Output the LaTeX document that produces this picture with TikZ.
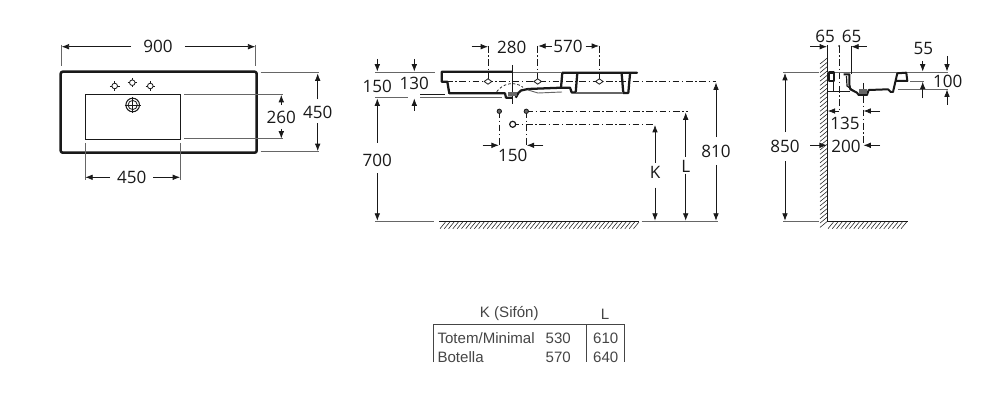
\documentclass[tikz,border=0pt]{standalone}
\usepackage{fontspec}
\setmainfont{Open Sans}
\newfontfamily\tablefont{Liberation Sans}
\usetikzlibrary{arrows.meta}
\definecolor{inkline}{gray}{0.1}
\definecolor{extline}{gray}{0.4}
\definecolor{tabletext}{gray}{0.27}
\tikzset{
	dimtext/.style={inner sep=0pt,font=\fontsize{12.8}{14}\selectfont,text=inkline},
	dimarrow/.style={draw=inkline,line width=0.55pt,-{Latex[length=5.5pt,width=4.2pt]}},
	extension/.style={draw=extline,line width=0.7pt},
	centreline/.style={draw=inkline,line width=0.45pt,dash pattern=on 5pt off 2pt on 1pt off 2pt},
	outline/.style={draw=inkline,line width=1.7pt,line join=round},
	thinline/.style={draw=inkline,line width=0.55pt},
	hatching/.style={draw=inkline,line width=0.4pt},
	hole/.style={draw=inkline,line width=0.6pt,fill=white},
	tabletextstyle/.style={inner sep=0pt,font=\tablefont\fontsize{11.3}{13}\selectfont,text=tabletext},
	tablerule/.style={draw=tabletext,line width=0.6pt}
}
\begin{document}
\begin{tikzpicture}
	[x=0.75pt,y=-0.75pt]
	\useasboundingbox (0,0) rectangle (1000,417);

	\draw[outline,line width=1.9pt,rounded corners=1.5pt] (60.7,71.7) rectangle (256.7,152.7);
	\draw[thinline] (85.3,94.3) rectangle (180,139.3);
	\foreach \hx/\hy in {114.7/86,132.3/82.7,150.3/86} {
		\draw[thinline] (\hx-4.8,\hy) -- (\hx+4.8,\hy) (\hx,\hy-4.8) -- (\hx,\hy+4.8);
		\draw[hole] (\hx,\hy) circle [radius=2.8];
	}
	\draw[thinline] (124.5,105) -- (141,105) (132.7,97) -- (132.7,113.5);
	\draw[hole,line width=0.8pt,fill=none] (132.7,105) circle [radius=6.8];
	\draw[hole,fill=none] (132.7,105) circle [radius=4.6];

	\draw[extension] (61.7,44.7) -- (61.7,66) (255.3,44.7) -- (255.3,66);
	\draw[extension] (260.7,72.7) -- (318.7,72.7) (260.7,151.3) -- (318.7,151.3);
	\draw[extension] (184,94.3) -- (282.7,94.3) (184,138.7) -- (282.7,138.7);
	\draw[extension] (85.3,143) -- (85.3,180) (180,143) -- (180,180);

	\node[dimtext] (w900) at (158,46.7) {900};
	\node[dimtext] (d450) at (317.7,112.7) {450};
	\node[dimtext] (d260) at (281.3,117) {260};
	\node[dimtext] (w450) at (131.7,177.3) {450};
	\coordinate (w900l) at (61.7,46.7);
	\coordinate (w900r) at (255.3,46.7);
	\coordinate (d450t) at (317.7,73.5);
	\coordinate (d450b) at (317.7,151);
	\coordinate (d260t) at (281.3,95);
	\coordinate (d260b) at (281.3,138.5);
	\coordinate (w450l) at (85.3,177.3);
	\coordinate (w450r) at (180,177.3);
	\draw[dimarrow,shorten <=9pt] (w900) -- (w900l);
	\draw[dimarrow,shorten <=9pt] (w900) -- (w900r);
	\draw[dimarrow,shorten <=5pt] (d450) -- (d450t);
	\draw[dimarrow,shorten <=3pt] (d450) -- (d450b);
	\draw[dimarrow,shorten <=4pt] (d260) -- (d260t);
	\draw[dimarrow,shorten <=4pt] (d260) -- (d260b);
	\draw[dimarrow,shorten <=5pt] (w450) -- (w450l);
	\draw[dimarrow,shorten <=5pt] (w450) -- (w450r);

	\draw[outline] (512.7,71.7) -- (441.7,71.7) -- (441.7,81.7) -- (447.3,81.7) -- (449.3,93.3)
		-- (505,93.3) -- (506,97.7) -- (512.7,97.7);
	\draw[outline] (515.7,97.7) -- (518.3,93) -- (521,90.5) -- (528,89) -- (561,87.7);
	\draw[outline,line cap=round] (561,87.7) -- (562.3,72.7) -- (637,72.7);
	\draw[outline] (561,87.7) -- (570,87.7) -- (571.7,92.5) -- (575.7,92.5) -- (577.3,73);
	\draw[outline] (621.7,74) -- (623.3,93) -- (628.3,93) -- (630,74);
	\draw[extension,line width=1pt] (575.7,93) -- (623.3,93);
	\draw[extension] (512.7,72.2) -- (562,72.2);
	\draw[thinline] (512.7,65) -- (512.7,104);
	\draw[extension] (528,90) -- (538,93) -- (562,92);
	\draw[thinline,dash pattern=on 2pt off 1.5pt] (496.7,91.7) .. controls (503,83) and (515,81) .. (523,87.3);
	\fill[extline] (507.5,92.5) rectangle (516.5,96.5);

	\draw[extension] (375,72.3) -- (435,72.3);
	\draw[extension] (375,97.7) -- (408,97.7) (420,97.7) -- (501.7,97.7);
	\draw[thinline] (420,94.3) -- (445,94.3);
	\draw[extension] (375,221.7) -- (434,221.7) (641.7,221.7) -- (718.3,221.7);
	\draw[thinline] (439.3,221.7) -- (638.7,221.7);
	\foreach \hx in {440,444.3,...,634} {
		\draw[hatching] (\hx,228.7) -- (\hx+5.5,222);
	}

	\draw[centreline] (446,81.5) -- (716,81.5);
	\draw[centreline] (526.3,111.3) -- (688,111.3);
	\draw[centreline] (512.7,124.3) -- (655,124.3);
	\draw[centreline] (488.3,46) -- (488.3,81.5);
	\draw[centreline] (537.7,46) -- (537.7,81.5);
	\draw[centreline] (599.3,46) -- (599.3,81.5);
	\draw[centreline] (499.3,111.3) -- (499.3,147);
	\draw[centreline] (526.3,111.3) -- (526.3,147);
	\foreach \hx in {488,537.7,599.3} {
		\draw[hole] (\hx-3.8,81.5) -- (\hx,78.8) -- (\hx+3.8,81.5) -- (\hx,84.2) -- cycle;
	}
	\foreach \hx in {499.3,526.3} {
		\draw[hole,fill=extline] (\hx,111.3) circle [radius=2.2];
	}
	\draw[hole,line width=0.9pt] (512.7,124.3) circle [radius=3];

	\node[dimtext] (p280) at (511.7,47) {280};
	\node[dimtext] (p570) at (568,46) {570};
	\node[dimtext] (h150) at (377.3,86) {150};
	\node[dimtext] (h130) at (414.3,83.3) {130};
	\node[dimtext] (h700) at (377.3,160) {700};
	\node[dimtext] (p150) at (512.7,155) {150};
	\node[dimtext] (hK) at (655,172) {K};
	\node[dimtext] (hL) at (685.7,166) {L};
	\node[dimtext] (h810) at (716,151.7) {810};
	\coordinate (p280a) at (471.7,46.7);
	\coordinate (p280b) at (488,46.7);
	\coordinate (p570l) at (538.3,46);
	\coordinate (p570r) at (599,46);
	\coordinate (h150a) at (377.3,59);
	\coordinate (h150b) at (377.3,71.5);
	\coordinate (h130a) at (414.3,59);
	\coordinate (h130b) at (414.3,71.5);
	\coordinate (h130c) at (414.3,111);
	\coordinate (h130d) at (414.3,98.5);
	\coordinate (h700t) at (377.3,98.5);
	\coordinate (h700b) at (377.3,220.7);
	\coordinate (p150a) at (482.7,145.3);
	\coordinate (p150b) at (498.8,145.3);
	\coordinate (p150c) at (543.3,145.3);
	\coordinate (p150d) at (526.8,145.3);
	\coordinate (hKt) at (655,125);
	\coordinate (hKb) at (655,220.7);
	\coordinate (hLt) at (685.7,112.5);
	\coordinate (hLb) at (685.7,220.7);
	\coordinate (h810t) at (716,82.5);
	\coordinate (h810b) at (716,220.7);
	\draw[dimarrow] (p280a) -- (p280b);
	\draw[dimarrow,shorten <=1pt] (p570) -- (p570l);
	\draw[dimarrow,shorten <=2pt] (p570) -- (p570r);
	\draw[dimarrow] (h150a) -- (h150b);
	\draw[dimarrow] (h130a) -- (h130b);
	\draw[dimarrow] (h130c) -- (h130d);
	\draw[dimarrow,shorten <=8pt] (h700) -- (h700t);
	\draw[dimarrow,shorten <=5pt] (h700) -- (h700b);
	\draw[dimarrow] (p150a) -- (p150b);
	\draw[dimarrow] (p150c) -- (p150d);
	\draw[dimarrow,shorten <=2pt] (hK) -- (hKt);
	\draw[dimarrow,shorten <=7pt] (hK) -- (hKb);
	\draw[dimarrow,shorten <=2pt] (hL) -- (hLt);
	\draw[dimarrow,shorten <=1pt] (hL) -- (hLb);
	\draw[dimarrow,shorten <=6pt] (h810) -- (h810t);
	\draw[dimarrow,shorten <=5pt] (h810) -- (h810b);

	\draw[thinline] (827.3,45) -- (827.3,221.7) -- (908.3,221.7);
	\foreach \hy in {64,68.3,...,228} {
		\draw[hatching] (820,\hy) -- (827.3,\hy-6);
	}
	\foreach \hx in {828,832.3,...,905} {
		\draw[hatching] (\hx,228.7) -- (\hx+5.5,222);
	}
	\draw[extension] (783.3,72) -- (819.3,72) (827.3,72) -- (948.3,72);
	\draw[extension] (783,221.7) -- (819,221.7);
	\draw[thinline] (851,46) -- (851,74);
	\draw[centreline] (839,46) -- (839,111.7);
	\draw[centreline] (863,83) -- (863,145);
	\draw[thinline] (827.3,91.7) -- (850,91.7) (833.7,81) -- (833.7,91.7);
	\draw[extension] (910,81.3) -- (924,81.3) (898.3,89) -- (948.3,89);
	\fill[inkline] (839,46) circle [radius=1];

	\draw[outline] (828.7,81) -- (828.7,72.5) -- (833.7,72.5) -- (833.7,81) -- cycle;
	\draw[outline,line width=1.5pt] (843.7,74.3) -- (849.3,74.3) -- (849.3,84.3) -- (850.3,89.3) -- (857,92.7)
		-- (858.7,95) -- (867,95) -- (868.7,90) -- (888,89.3) -- (890.7,92) -- (893,92) -- (897.3,73.3)
		-- (906.3,72.7) -- (907.3,81) -- (896.3,81);
	\draw[thinline,line width=0.9pt] (846.5,76) -- (847,86) -- (857,93);
	\fill[extline] (858.7,89.5) rectangle (867,94);

	\node[dimtext] (s65l) at (825,36.7) {65};
	\node[dimtext] (s65r) at (851.7,36.7) {65};
	\node[dimtext] (s850) at (785,146.7) {850};
	\node[dimtext] (s135) at (845,123.3) {135};
	\node[dimtext] (s200) at (846,146.7) {200};
	\node[dimtext] (s55) at (923.3,48.3) {55};
	\node[dimtext] (s100) at (947.7,81) {100};
	\coordinate (s65a) at (810,46.7);
	\coordinate (s65b) at (827,46.7);
	\coordinate (s65c) at (866.7,46.7);
	\coordinate (s65d) at (851.3,46.7);
	\coordinate (s850t) at (785,73);
	\coordinate (s850b) at (785,220.7);
	\coordinate (s135a) at (839,111);
	\coordinate (s135b) at (827.8,111);
	\coordinate (s135c) at (880,111);
	\coordinate (s135d) at (863.5,111);
	\coordinate (s200a) at (810,145.3);
	\coordinate (s200b) at (826.8,145.3);
	\coordinate (s200c) at (880,145.3);
	\coordinate (s200d) at (863.5,145.3);
	\coordinate (s55a) at (922.7,61);
	\coordinate (s55b) at (922.7,71.5);
	\coordinate (s55c) at (947,56);
	\coordinate (s55d) at (947,71.5);
	\coordinate (s100a) at (922.7,98.3);
	\coordinate (s100b) at (922.7,81.8);
	\coordinate (s100c) at (947,105);
	\coordinate (s100d) at (947,89.5);
	\draw[dimarrow] (s65a) -- (s65b);
	\draw[dimarrow] (s65c) -- (s65d);
	\draw[dimarrow,shorten <=6pt] (s850) -- (s850t);
	\draw[dimarrow,shorten <=6pt] (s850) -- (s850b);
	\draw[dimarrow] (s135a) -- (s135b);
	\draw[dimarrow] (s135c) -- (s135d);
	\draw[dimarrow] (s200a) -- (s200b);
	\draw[dimarrow] (s200c) -- (s200d);
	\draw[dimarrow] (s55a) -- (s55b);
	\draw[dimarrow] (s55c) -- (s55d);
	\draw[dimarrow] (s100a) -- (s100b);
	\draw[dimarrow] (s100c) -- (s100d);

	\node[tabletextstyle] (headK) at (509.3,314) {K (Sifón)};
	\node[tabletextstyle] (headL) at (605,314) {L};
	\node[tabletextstyle,anchor=west] (rowa) at (437.3,338.3) {Totem/Minimal};
	\node[tabletextstyle] (rowak) at (558.3,338.3) {530};
	\node[tabletextstyle] (rowal) at (605.7,338.3) {610};
	\node[tabletextstyle,anchor=west] (rowb) at (437.3,357.3) {Botella};
	\node[tabletextstyle] (rowbk) at (558.3,357.3) {570};
	\node[tabletextstyle] (rowbl) at (605.7,357.3) {640};
	\draw[tablerule] (433.3,362) -- (433.3,324) -- (624.3,324) -- (624.3,362);
	\draw[tablerule] (586,324) -- (586,362);
\end{tikzpicture}
\end{document}
